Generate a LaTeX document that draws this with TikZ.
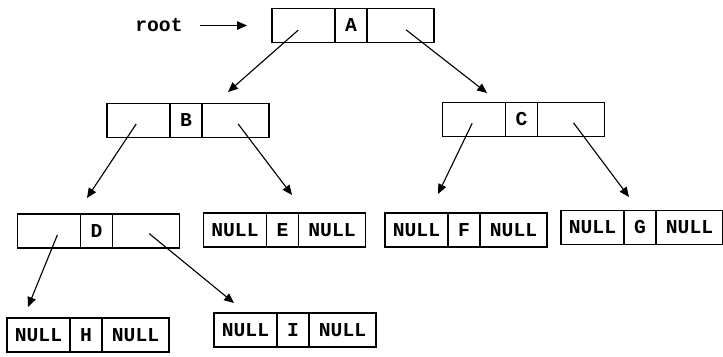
\documentclass[tikz,border=0pt]{standalone}
\usepackage{fontspec}
\setmonofont{Liberation Mono}
\usetikzlibrary{positioning,arrows.meta}

\begin{document}
\begin{tikzpicture}[x=0.025cm,y=-0.025cm,
    font=\ttfamily\bfseries\fontsize{14}{16}\selectfont,
    cell/.style={draw,line width=1.1pt,outer sep=0pt,inner sep=0pt,minimum height=0.85cm},
    key/.style={cell,minimum width=0.8cm},
    lptr/.style={cell,minimum width=1.575cm},
    rptr/.style={cell,minimum width=1.675cm},
    link/.style={line width=0.8pt,-{Triangle[length=7pt,width=6pt]},shorten <=3pt}]
    \useasboundingbox (0,0) rectangle (723,356);

    % the nodes: left pointer | key | right pointer
    \node [key] (A) at (351,25.5) {A};
    \node [lptr,left=0pt of A] (Al) {};
    \node [rptr,right=0pt of A] (Ar) {};

    \node [key] (B) at (186,120.5) {B};
    \node [lptr,left=0pt of B] (Bl) {};
    \node [rptr,right=0pt of B] (Br) {};

    \node [key] (C) at (521.5,119.5) {C};
    \node [lptr,left=0pt of C] (Cl) {};
    \node [rptr,right=0pt of C] (Cr) {};

    \node [key] (D) at (96.5,231) {D};
    \node [lptr,left=0pt of D] (Dl) {};
    \node [rptr,right=0pt of D] (Dr) {};

    \node [key] (E) at (282.5,230) {E};
    \node [lptr,left=0pt of E] (El) {NULL};
    \node [rptr,right=0pt of E] (Er) {NULL};

    \node [key] (F) at (464,230) {F};
    \node [lptr,left=0pt of F] (Fl) {NULL};
    \node [rptr,right=0pt of F] (Fr) {NULL};

    \node [key] (G) at (640,227.5) {G};
    \node [lptr,left=0pt of G] (Gl) {NULL};
    \node [rptr,right=0pt of G] (Gr) {NULL};

    \node [key] (H) at (86,335) {H};
    \node [lptr,left=0pt of H] (Hl) {NULL};
    \node [rptr,right=0pt of H] (Hr) {NULL};

    \node [key] (I) at (293,330) {I};
    \node [lptr,left=0pt of I] (Il) {NULL};
    \node [rptr,right=0pt of I] (Ir) {NULL};

    \node (root) at (159,25.5) {root};

    % where the arrow tips stop
    \coordinate (rootTip) at (247,25.5);
    \coordinate (toB) at (228,92);
    \coordinate (toC) at (487,93);
    \coordinate (toD) at (87,198);
    \coordinate (toE) at (292,195);
    \coordinate (toF) at (438,194);
    \coordinate (toG) at (629,197);
    \coordinate (toH) at (28,307);
    \coordinate (toI) at (234,303);

    \draw [link,shorten <=0.3cm] (root) -- (rootTip);
    \draw [link,shorten <=5pt] (Al.center) -- (toB);
    \draw [link,shorten <=5pt] (Ar.center) -- (toC);
    \draw [link] (Bl.center) -- (toD);
    \draw [link] (Br.center) -- (toE);
    \draw [link] (Cl.center) -- (toF);
    \draw [link] (Cr.center) -- (toG);
    \draw [link] ([xshift=0.25cm]Dl.center) -- (toH);
    \draw [link] (Dr.center) -- (toI);
\end{tikzpicture}
\end{document}
